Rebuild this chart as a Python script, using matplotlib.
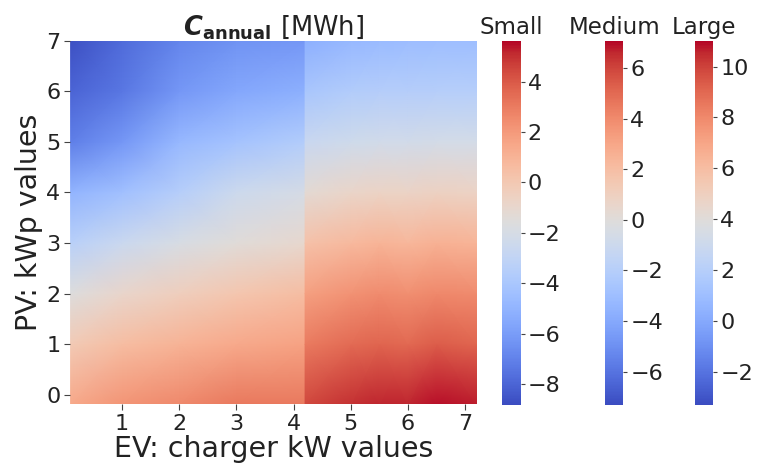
import matplotlib
matplotlib.use("Agg")
import matplotlib.pyplot as plt
import numpy as np
from matplotlib.colors import Normalize
from matplotlib.cm import ScalarMappable

# ── data ──────────────────────────────────────────────────────────────────────
# node grid for the two blocks of the map
ev_left = [0.1, 1.0, 2.0, 3.0, 4.2]
ev_right = [4.2, 5.0, 5.5, 6.0, 6.5, 7.2]
pv_nodes = [-0.2, 1, 2, 3, 4, 5, 6, 7]

# C_annual [MWh], left block (Small scale), rows follow pv_nodes
c_small = [
    [1.5, 2.2, 2.6, 3.1, 3.1],
    [-0.1, 0.6, 1.0, 1.4, 1.7],
    [-1.6, -0.9, -0.4, 0.1, 0.6],
    [-3.4, -2.6, -1.9, -1.4, -1.0],
    [-5.0, -4.4, -3.5, -2.5, -2.0],
    [-7.1, -6.2, -4.8, -4.2, -3.6],
    [-8.0, -7.4, -6.2, -5.6, -5.2],
    [-8.7, -7.8, -6.9, -6.4, -6.2],
]

# C_annual [MWh], right block (Large scale)
c_large = [
    [9.9, 10.4, 10.6, 10.6, 10.9, 10.7],
    [8.4, 8.9, 9.1, 9.0, 9.3, 9.1],
    [7.2, 7.7, 7.9, 7.8, 8.0, 7.9],
    [5.8, 6.2, 6.4, 6.3, 6.5, 6.4],
    [4.2, 4.6, 4.8, 4.7, 4.9, 4.8],
    [2.8, 3.1, 3.2, 3.2, 3.3, 3.3],
    [1.4, 1.8, 1.9, 1.9, 2.0, 2.0],
    [0.3, 0.7, 0.8, 0.9, 1.0, 1.0],
]

scale_names = ["Small", "Medium", "Large"]
scale_limits = [(-8.83, 5.63), (-7.32, 7.09), (-3.31, 11.02)]
scale_ticks = [[-8, -6, -4, -2, 0, 2, 4],
               [-6, -4, -2, 0, 2, 4, 6],
               [-2, 0, 2, 4, 6, 8, 10]]

CMAP = "coolwarm"

fig = plt.figure(figsize=(7.57, 4.72), dpi=100)
ax = fig.add_axes([0.0925, 0.144, 0.5372, 0.770])

norms = [Normalize(*lim) for lim in scale_limits]

X, Y = np.meshgrid(ev_left, pv_nodes)
ax.pcolormesh(X, Y, np.array(c_small), shading="gouraud", cmap=CMAP,
              norm=norms[0], rasterized=True)
X, Y = np.meshgrid(ev_right, pv_nodes)
ax.pcolormesh(X, Y, np.array(c_large), shading="gouraud", cmap=CMAP,
              norm=norms[2], rasterized=True)

ax.set_xlim(0.09, 7.2)
ax.set_ylim(-0.18, 7)
ax.set_xticks(range(1, 8))
ax.set_yticks(range(0, 8))
for s in ax.spines.values():
    s.set_visible(False)
ax.tick_params(labelsize=16, length=4, width=0.8, color="#444444",
               labelcolor="#222222", pad=3)
ax.set_xlabel("EV: charger kW values", fontsize=20.5, color="#222222", labelpad=1)
ax.set_ylabel("PV: kWp values", fontsize=20.5, color="#222222", labelpad=2)
ax.set_title(r"$\mathbfit{C}_{\mathbf{annual}}$ [MWh]", fontsize=18.5,
             color="#222222", pad=2)

# ── colorbars ─────────────────────────────────────────────────────────────────
cb_left = [0.6636, 0.7992, 0.9181]
for name, norm, ticks, x0 in zip(scale_names, norms, scale_ticks, cb_left):
    cax = fig.add_axes([x0, 0.142, 0.0243, 0.772])
    cb = fig.colorbar(ScalarMappable(norm=norm, cmap=CMAP), cax=cax)
    cb.outline.set_visible(False)
    cb.set_ticks(ticks)
    cax.tick_params(labelsize=16, length=3, width=0.8, color="#444444",
                    labelcolor="#222222", pad=2)
    cax.set_title(name, fontsize=16.5, color="#222222", pad=5)

fig.savefig("out.png", dpi=100)
